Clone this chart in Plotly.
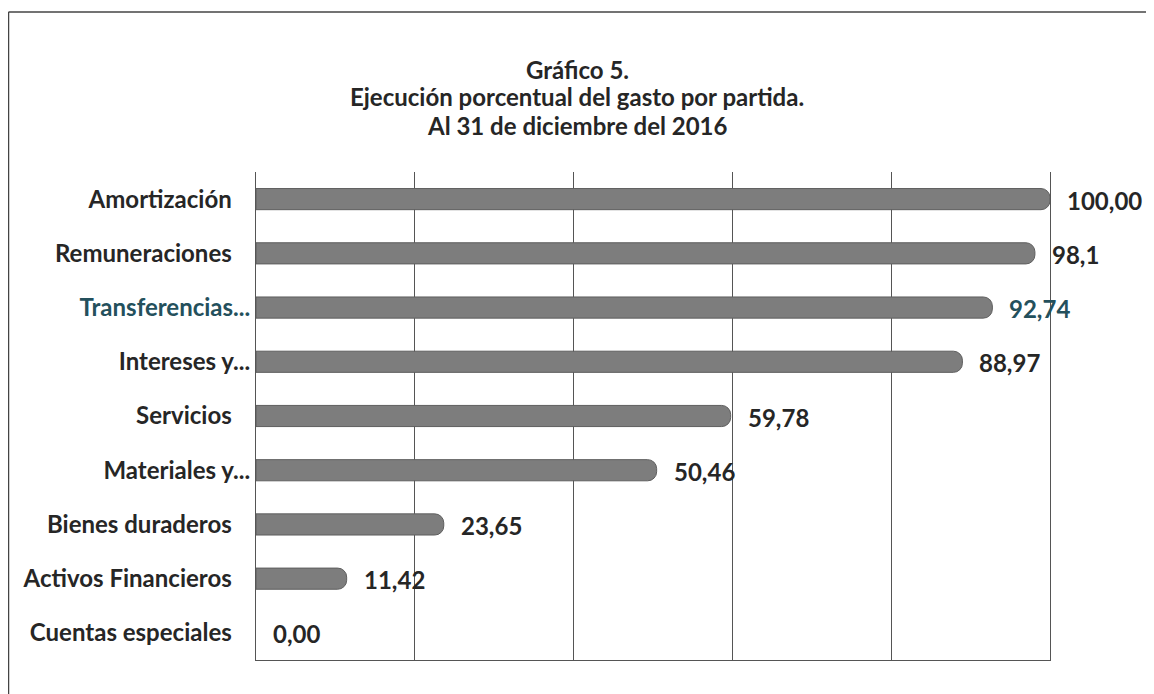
import plotly.graph_objects as go

categories = ["Amortización", "Remuneraciones", "Transferencias...", "Intereses y...",
              "Servicios", "Materiales y...", "Bienes duraderos", "Activos Financieros",
              "Cuentas especiales"]
values = [100.00, 98.1, 92.74, 88.97, 59.78, 50.46, 23.65, 11.42, 0.00]
value_labels = ["100,00", "98,1", "92,74", "88,97", "59,78", "50,46", "23,65", "11,42", "0,00"]
truncated = [False, False, True, True, False, True, False, False, False]
grid_ticks = [0, 20, 40, 60, 80, 100]
title_lines = ["Gráfico 5.", "Ejecución porcentual del gasto por partida.", "Al 31 de diciembre del 2016"]

FONT = "Lato"
TXT = "#262626"
TEAL = "#24505c"

ticktext = []
for c, t in zip(categories, truncated):
    if c.startswith("Transferencias"):
        ticktext.append("<span style='color:" + TEAL + "'><b>" + c + "</b></span>")
    elif t:
        ticktext.append("<b>" + c + "</b>")
    else:
        ticktext.append("<b>" + c + "</b>" + "\u00a0\u00a0\u00a0")

fig = go.Figure()
fig.add_trace(go.Bar(
    x=values, y=categories, orientation="h",
    marker=dict(color="#7d7d7d",
                line=dict(color="#5e5e5e", width=[1 if v > 0 else 0 for v in values]),
                cornerradius=9),
    hoverinfo="skip",
))

for v, lab, c in zip(values, value_labels, categories):
    fig.add_annotation(x=v, y=c, text="<b>" + lab + "</b>", showarrow=False, xanchor="left",
                       xshift=15, yshift=-1,
                       font=dict(family=FONT, size=24, color=TEAL if c.startswith("Transf") else TXT))

# page body has an 8px margin, so figure coords = page coords - 8
W, H = 1146, 686
L, R, T, B = 248, 1042, 164, 652
px2x = lambda px: (px - L) / (R - L)
px2y = lambda py: (B - py) / (B - T)

for line, yc in zip(title_lines, [62, 89, 117]):
    fig.add_annotation(xref="paper", yref="paper", x=px2x(569), y=px2y(yc),
                       text="<b>" + line + "</b>", showarrow=False,
                       xanchor="center", yanchor="middle",
                       font=dict(family=FONT, size=24, color=TXT))

fig.update_layout(
    width=W, height=H,
    margin=dict(l=L, r=W - R, t=T, b=H - B),
    paper_bgcolor="white", plot_bgcolor="white",
    showlegend=False,
    bargap=0.61,
    xaxis=dict(range=[0, 100], tickvals=grid_ticks, showticklabels=False,
               showgrid=True, gridcolor="#555555", gridwidth=1,
               zeroline=False, showline=True, linecolor="#555555", linewidth=1,
               mirror=False, fixedrange=True),
    yaxis=dict(categoryorder="array", categoryarray=categories[::-1],
               tickvals=categories, ticktext=ticktext,
               showgrid=False, zeroline=False,
               tickfont=dict(family=FONT, size=24, color=TXT),
               ticks="", ticklabelstandoff=0,
               showline=True, mirror=True, linecolor="#555555", linewidth=1),
)

# outer chart frame (left and top edges visible in reference)
fig.add_shape(type="line", xref="paper", yref="paper",
              x0=px2x(0.5), x1=px2x(0.5), y0=px2y(4), y1=px2y(700),
              line=dict(color="#444444", width=1.5))
fig.add_shape(type="line", xref="paper", yref="paper",
              x0=px2x(0.5), x1=px2x(1160), y0=px2y(4), y1=px2y(4),
              line=dict(color="#444444", width=1.5))

fig.write_html("out.html")
